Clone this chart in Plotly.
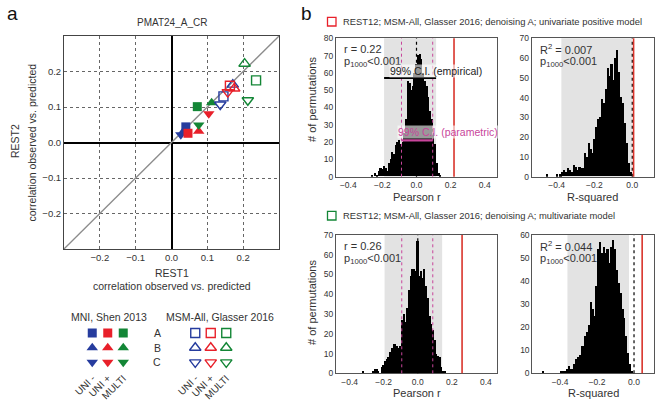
import plotly.graph_objects as go

W, H = 662, 408


def px(x):
    return x / W


def py(y):
    return 1 - y / H


FONT = "Liberation Sans, Arial, sans-serif"
TXT = "#333333"

# ---------------- panel a : scatter data ----------------
variants = ["A", "B", "C"]
models = ["UNI -", "UNI +", "MULTI"]
model_colors = ["#263c9e", "#e8202a", "#138636"]
variant_symbols = ["square", "triangle-up", "triangle-down"]
variant_sizes = [9, 10, 10]

# rows = model (UNI -, UNI +, MULTI), columns = variant (A, B, C)
mni_rest1 = [[0.040, 0.035, 0.026], [0.046, 0.076, 0.104], [0.072, 0.112, 0.076]]
mni_rest2 = [[0.044, 0.033, 0.022], [0.026, 0.032, 0.081], [0.101, 0.112, 0.049]]
glasser_rest1 = [[0.145, 0.171, 0.136], [0.163, 0.175, 0.157], [0.236, 0.204, 0.213]]
glasser_rest2 = [[0.130, 0.163, 0.107], [0.160, 0.152, 0.142], [0.175, 0.222, 0.119]]
diag = [-0.3, 0.3]
scatter_ticks = [-0.2, -0.1, 0.0, 0.1, 0.2]

# ---------------- panel b : permutation histograms ----------------
bin_width = 0.01
uni_r_start = -0.26
uni_r_counts = [1, 0, 2, 1, 3, 5, 4, 6, 5, 3,
                8, 10, 14, 13, 18, 20, 21, 19, 20, 25,
                33, 55, 54, 50, 52, 60, 65, 70, 71, 68,
                60, 55, 52, 46, 38, 33, 25, 19, 8, 2, 1]
uni_r2_start = -0.45
uni_r2_counts = [1, 0, 0, 0, 0, 1, 0, 1, 2, 3,
                 2, 4, 3, 2, 6, 5, 3, 5, 4, 4,
                 12, 10, 17, 14, 12, 19, 25, 29, 30, 39,
                 37, 44, 55, 51, 57, 49, 60, 64, 53, 40,
                 37, 27, 17, 7, 2]
multi_r_start = -0.32
multi_r_counts = [1, 0, 0, 0, 0, 0, 1, 2, 2, 1,
                  0, 3, 4, 6, 7, 8, 11, 13, 15, 15,
                  14, 13, 14, 27, 30, 26, 33, 42, 49, 53,
                  53, 52, 67, 49, 52, 48, 53, 44, 38, 29,
                  25, 22, 17, 10, 9, 8, 3, 1, 1]
multi_r2_start = -0.49
multi_r2_counts = [1, 0, 0, 0, 0, 0, 0, 0, 0, 0,
                   1, 1, 1, 2, 3, 2, 2, 4, 6, 7,
                   8, 12, 12, 16, 18, 21, 31, 28, 25, 38,
                   54, 57, 52, 55, 52, 54, 48, 55, 58, 54,
                   45, 39, 35, 28, 24, 16, 9, 4, 1]

observed = [0.22, 0.007, 0.26, 0.044]
empirical_ci = [[-0.19, 0.115], [-0.375, -0.002], [-0.195, 0.143], [-0.36, -0.027]]
parametric_ci = [[-0.088, 0.095], None, [-0.094, 0.088], None]
stat_labels = ["r = 0.22", "R<sup>2</sup> = 0.007", "r = 0.26", "R<sup>2</sup> = 0.044"]
p_label = "p<sub>1000</sub>&lt;0.001"
x_titles = ["Pearson r", "R-squared", "Pearson r", "R-squared"]
y_maxes = [80, 70, 70, 60]
x_ranges = [[-0.472, 0.472], [-0.532, 0.115], [-0.48, 0.465], [-0.55, 0.108]]
x_tickvals = [[-0.4, -0.2, 0.0, 0.2, 0.4], [-0.4, -0.2, 0.0],
              [-0.4, -0.2, 0.0, 0.2, 0.4], [-0.4, -0.2, 0.0]]
headings = ["REST12; MSM-All, Glasser 2016; denoising A; univariate positive model",
            "REST12; MSM-All, Glasser 2016; denoising A; multivariate model"]
heading_colors = ["#e8202a", "#138636"]

hist_sets = [(uni_r_start, uni_r_counts), (uni_r2_start, uni_r2_counts),
             (multi_r_start, multi_r_counts), (multi_r2_start, multi_r2_counts)]

# pixel boxes of the histogram panels (left, right, top, bottom)
hist_boxes = [(336, 497, 38.3, 176.7), (531.7, 654, 38.3, 176.7),
              (336, 497, 235, 373.3), (532.3, 654, 235, 373.3)]

fig = go.Figure()
shapes = []
annotations = []


def note(text, x, y, size=10.5, color=TXT, xanchor="center", angle=0, xref="paper", yref="paper",
         bg=None):
    d = dict(text=text, x=x, y=y, xref=xref, yref=yref, xanchor=xanchor,
             yanchor="middle", showarrow=False, textangle=angle,
             font=dict(size=size, color=color, family=FONT))
    if bg:
        d["bgcolor"] = bg
        d["borderpad"] = 0
    annotations.append(d)


# ---------- scatter ----------
fig.add_trace(go.Scatter(x=diag, y=diag, mode="lines", line=dict(color="#8c8c8c", width=1.3),
                         xaxis="x", yaxis="y", showlegend=False, hoverinfo="skip"))
for mi in range(len(models)):
    c = model_colors[mi]
    fig.add_trace(go.Scatter(
        x=mni_rest1[mi], y=mni_rest2[mi], mode="markers", xaxis="x", yaxis="y",
        marker=dict(symbol=variant_symbols, size=variant_sizes, color=c, opacity=1, line=dict(width=0)),
        showlegend=False))
for mi in range(len(models)):
    c = model_colors[mi]
    fig.add_trace(go.Scatter(
        x=glasser_rest1[mi], y=glasser_rest2[mi], mode="markers", xaxis="x", yaxis="y",
        marker=dict(symbol=[s + "-open" for s in variant_symbols], size=variant_sizes,
                    color=c, opacity=1, line=dict(width=1.4, color=c)),
        showlegend=False))

# ---------- legend grids (categorical axes) ----------
for ax, filled in (("6", True), ("7", False)):
    for mi, m in enumerate(models):
        c = model_colors[mi]
        sym = variant_symbols if filled else [s + "-open" for s in variant_symbols]
        fig.add_trace(go.Scatter(
            x=[m] * len(variants), y=variants, mode="markers",
            xaxis="x" + ax, yaxis="y" + ax,
            marker=dict(symbol=sym, size=variant_sizes, color=c, opacity=1,
                        line=dict(width=0 if filled else 1.4, color=c)),
            showlegend=False))

# ---------- histograms ----------
for i, (start, counts) in enumerate(hist_sets):
    ax = str(i + 2)
    centers = [round(start + k * bin_width, 3) for k in range(len(counts))]
    fig.add_trace(go.Bar(x=centers, y=counts, width=bin_width, marker=dict(color="black", line=dict(width=0)),
                         xaxis="x" + ax, yaxis="y" + ax, showlegend=False))
    xr, yr = "x" + ax, "y" + ax
    lo, hi = empirical_ci[i]
    shapes.append(dict(type="rect", xref=xr, yref=yr + " domain", x0=lo, x1=hi, y0=0, y1=1,
                       fillcolor="#e3e3e3", line=dict(width=0), layer="below"))
    if parametric_ci[i] is not None:
        for v in parametric_ci[i]:
            shapes.append(dict(type="line", xref=xr, yref=yr + " domain", x0=v, x1=v, y0=0, y1=1,
                               line=dict(color="#c8459b", width=1, dash="dot"), layer="above"))
    shapes.append(dict(type="line", xref=xr, yref=yr + " domain", x0=0, x1=0, y0=0, y1=1,
                       line=dict(color="black", width=1.2, dash="dot"), layer="above"))
    shapes.append(dict(type="line", xref=xr, yref=yr + " domain", x0=observed[i], x1=observed[i], y0=0, y1=1,
                       line=dict(color="#d9342b", width=1.6), layer="above"))
    l, r, t, b = hist_boxes[i]
    note(stat_labels[i], px(l + 6), py(t + 11), size=11, xanchor="left")
    note(p_label, px(l + 6), py(t + 24), size=11, xanchor="left")
    note(x_titles[i], px((l + r) / 2), py(b + 20), size=11)

# CI bars with labels on the first histogram
shapes.append(dict(type="line", xref="x2", yref="y2", x0=empirical_ci[0][0], x1=empirical_ci[0][1],
                   y0=57, y1=57, line=dict(color="black", width=2), layer="above"))
shapes.append(dict(type="line", xref="x2", yref="y2", x0=parametric_ci[0][0], x1=parametric_ci[0][1],
                   y0=21, y1=21, line=dict(color="#c8459b", width=2.2), layer="above"))
note("99% C.I. (empirical)", px(435.5), py(70.5), size=10.5, color="#222", bg="rgba(255,255,255,0.6)")
note("99% C.I. (parametric)", px(447.5), py(132.5), size=10.5, color="#c8459b", bg="rgba(255,255,255,0.6)")

# y titles of histograms
for yc in (100, 303):
    note("# of permutations", px(312), py(yc), size=11, angle=-90)

# headings
for k, yc in enumerate((21.7, 215.7)):
    shapes.append(dict(type="rect", xref="paper", yref="paper", x0=px(327.5), x1=px(336),
                       y0=py(yc + 4.3), y1=py(yc - 4.3), line=dict(color=heading_colors[k], width=1.3),
                       fillcolor="white"))
    note(headings[k], px(341), py(yc), size=9.4, xanchor="left")

# panel a texts
note("a", px(12), py(14), size=19, color="#111")
note("b", px(306), py(14), size=19, color="#111")
note("PMAT24_A_CR", px(171.5), py(22), size=10)
note("REST1", px(171.5), py(272.7))
note("correlation observed vs. predicted", px(171.5), py(286))
note("REST2", px(15), py(141), angle=-90)
note("correlation observed vs. predicted", px(31.5), py(143), angle=-90)
note("MNI, Shen 2013", px(109), py(316.7))
note("MSM-All, Glasser 2016", px(219.5), py(316.7))
for vi, v in enumerate(variants):
    note(v, px(157.3), vi, yref="y6")

tickfont_s = dict(size=9.5, color=TXT, family=FONT)
tickfont_h = dict(size=8.5, color=TXT, family=FONT)

layout = dict(
    width=W, height=H, margin=dict(l=0, r=0, t=0, b=0, autoexpand=False),
    paper_bgcolor="white", plot_bgcolor="white",
    font=dict(family=FONT, color=TXT),
    bargap=0, shapes=shapes, annotations=annotations,
    xaxis=dict(domain=[px(64), px(279)], range=[-0.3, 0.3], anchor="y",
               tickvals=scatter_ticks, tickformat=".1f", showgrid=True, gridcolor="#666",
               griddash="dot", gridwidth=1, zeroline=True, zerolinecolor="black", zerolinewidth=1.5,
               showline=True, mirror=True, linecolor="#444", linewidth=1, ticks="",
               tickfont=tickfont_s),
    yaxis=dict(domain=[py(249), py(36)], range=[-0.3, 0.3], anchor="x",
               tickvals=scatter_ticks, tickformat=".1f", showgrid=True, gridcolor="#666",
               griddash="dot", gridwidth=1, zeroline=True, zerolinecolor="black", zerolinewidth=1.5,
               showline=True, mirror=True, linecolor="#444", linewidth=1, ticks="",
               tickfont=tickfont_s),
)

for i in range(4):
    ax = str(i + 2)
    l, r, t, b = hist_boxes[i]
    layout["xaxis" + ax] = dict(domain=[px(l), px(r)], range=x_ranges[i], anchor="y" + ax,
                                tickvals=x_tickvals[i], tickformat=".1f", showgrid=False, zeroline=False,
                                showline=True, mirror=True, linecolor="#555", linewidth=1, ticks="",
                                tickfont=tickfont_h)
    layout["yaxis" + ax] = dict(domain=[py(b), py(t)], range=[0, y_maxes[i]], anchor="x" + ax,
                                dtick=10, showgrid=False, zeroline=False,
                                showline=True, mirror=True, linecolor="#555", linewidth=1, ticks="",
                                tickfont=tickfont_h)

legend_x_domains = {"6": [84.5, 131], "7": [187.5, 234]}
for ax, (l, r) in legend_x_domains.items():
    layout["xaxis" + ax] = dict(domain=[px(l), px(r)], type="category", categoryorder="array",
                                categoryarray=models, range=[-0.5, 2.5], anchor="y" + ax,
                                tickangle=-45, showgrid=False, zeroline=False, showline=False, ticks="",
                                tickfont=dict(size=10, color=TXT, family=FONT), automargin=False)
    layout["yaxis" + ax] = dict(domain=[py(369.7), py(325.7)], type="category", categoryorder="array",
                                categoryarray=variants, range=[2.5, -0.5], anchor="x" + ax,
                                showticklabels=False, showgrid=False, zeroline=False, showline=False)

fig.update_layout(**layout)
fig.write_html("out.html", config={"displayModeBar": False},
               post_script="document.body.style.margin='0';document.body.style.padding='0';")
